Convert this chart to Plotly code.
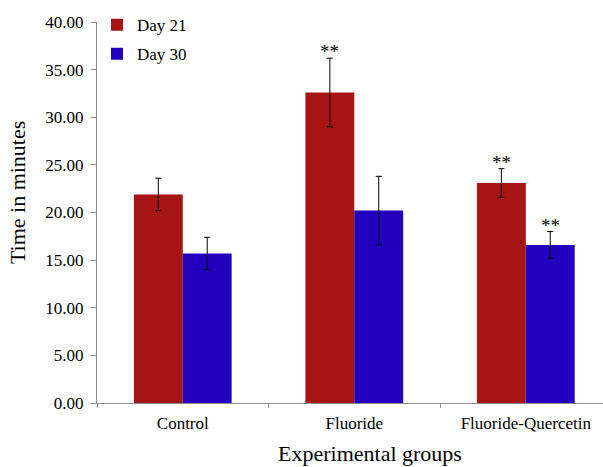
import plotly.graph_objects as go

categories = ["Control", "Fluoride", "Fluoride-Quercetin"]
day21 = [21.9, 32.6, 23.1]
day30 = [15.7, 20.2, 16.6]
err21 = [1.7, 3.6, 1.5]
err30 = [1.7, 3.6, 1.4]
sig21 = ["", "**", "**"]
sig30 = ["", "", "**"]

RED = "#A71416"
BLUE = "#2200BE"
FONT = "Liberation Serif"

fig = go.Figure()
fig.add_trace(go.Bar(
    x=categories, y=day21, name="Day 21", marker=dict(color=RED, line=dict(width=0)),
    error_y=dict(type="data", array=err21, color="black", thickness=1, width=3),
    legendgroup="a"))
fig.add_trace(go.Bar(
    x=categories, y=day30, name="Day 30", marker=dict(color=BLUE, line=dict(width=0)),
    error_y=dict(type="data", array=err30, color="black", thickness=1, width=3),
    legendgroup="b"))

bargap = 0.43
bw = (1 - bargap) / 2
annotations = []
for i, c in enumerate(categories):
    for vals, errs, sig, off in ((day21, err21, sig21, -bw / 2), (day30, err30, sig30, bw / 2)):
        if sig[i]:
            annotations.append(dict(
                x=i + off, y=vals[i] + errs[i], text=sig[i], showarrow=False,
                yanchor="bottom", yshift=-6, font=dict(family=FONT, size=19, color="black")))

annotations.append(dict(
    text="Time in minutes", xref="paper", yref="paper", x=-0.158, y=0.551,
    xanchor="center", yanchor="middle", textangle=-90, showarrow=False,
    font=dict(family=FONT, size=22, color="black")))
annotations.append(dict(
    text="Experimental groups", xref="paper", yref="paper", x=0.54, y=-0.133,
    xanchor="center", yanchor="middle", showarrow=False,
    font=dict(family=FONT, size=22, color="black")))

fig.update_layout(
    width=603, height=467,
    margin=dict(l=97, r=0, t=22, b=64),
    paper_bgcolor="white", plot_bgcolor="white",
    barmode="group", bargap=bargap, bargroupgap=0,
    font=dict(family=FONT, size=17, color="black"),
    showlegend=True,
    legend=dict(x=0.0, y=1.039, xanchor="left", yanchor="top",
                font=dict(family=FONT, size=17, color="black"),
                tracegroupgap=4, bgcolor="rgba(0,0,0,0)"),
    annotations=annotations,
)
fig.update_xaxes(
    range=[-0.5, 2.45], showline=True, linecolor="#8c8c8c", linewidth=1,
    ticks="outside", tickson="boundaries", ticklen=4, tickcolor="#8c8c8c",
    showgrid=False, tickfont=dict(family=FONT, size=17, color="black"), ticklabelstandoff=5,
)
fig.update_yaxes(
    range=[0, 40], dtick=5, tickformat=".2f", showline=True, linecolor="#8c8c8c",
    linewidth=1, ticks="outside", ticklen=5, tickcolor="#8c8c8c", showgrid=False,
    zeroline=False, tickfont=dict(family=FONT, size=17, color="black"), ticklabelstandoff=4,
)

fig.write_html("out.html", config={"displayModeBar": False},
               post_script="document.body.style.margin='0';")
